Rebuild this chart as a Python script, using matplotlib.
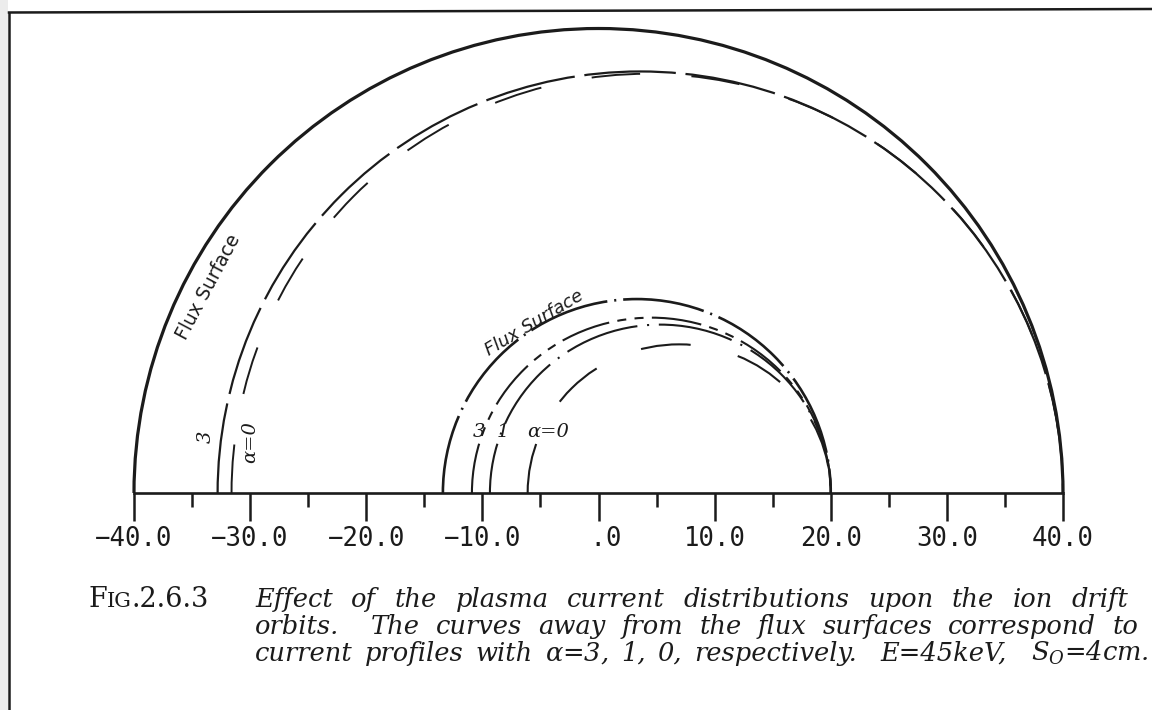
import numpy as np
import matplotlib
matplotlib.use("Agg")
import matplotlib.pyplot as plt
from matplotlib.patches import Arc, Rectangle
from matplotlib.lines import Line2D
from matplotlib.transforms import IdentityTransform

plt.rcParams["lines.scale_dashes"] = False
plt.rcParams["mathtext.fontset"] = "custom"
plt.rcParams["mathtext.rm"] = "DejaVu Serif"
plt.rcParams["mathtext.it"] = "DejaVu Serif:italic"

INK = "#1b1b1b"

# ---- flux surfaces: centre on the midplane and radius (cm)
flux_centre = [0.0, 3.3]
flux_radius = [40.0, 16.7]

# ---- drift orbits: inner / outer crossing of the midplane and peak height (cm)
outer_alpha = ["3", "0"]
outer_left = [-32.8, -31.6]
outer_right = [40.0, 40.0]
outer_top = [36.3, 36.1]

inner_alpha = ["3", "1", "0"]
inner_left = [-10.9, -9.35, -6.1]
inner_right = [20.0, 20.0, 20.0]
inner_top = [15.1, 14.5, 12.8]

x_ticks = [-40, -30, -20, -10, 0, 10, 20, 30, 40]
x_tick_labels = ["\u221240.0", "\u221230.0", "\u221220.0", "\u221210.0", " .0",
                 "10.0", "20.0", "30.0", "40.0"]

caption = [
    ["Effect", "of", "the", "plasma", "current", "distributions", "upon", "the", "ion", "drift"],
    ["orbits.", "The", "curves", "away", "from", "the", "flux", "surfaces", "correspond", "to"],
    ["current", "profiles", "with", r"$\alpha$=3,", "1,", "0,", "respectively.", "E=45keV,",
     r"$S_O$=4cm."],
]

W, H = 1152, 710
PPU = 929 / 80          # pixels per cm along both axes

fig = plt.figure(figsize=(W / 100, H / 100), dpi=100)
fig.patch.set_facecolor("white")

ax = fig.add_axes([134 / W, (H - 493) / H, 929 / W, 493 / H])
ax.set_xlim(-40, 40)
ax.set_ylim(0, 493 / PPU)
ax.set_facecolor("none")
for s in ["top", "left", "right"]:
    ax.spines[s].set_visible(False)
ax.spines["bottom"].set_linewidth(1.9)
ax.spines["bottom"].set_color(INK)
ax.set_xticks(x_ticks)
ax.set_xticklabels(x_tick_labels, family="DejaVu Sans Mono", fontsize=18.5, color=INK)
ax.set_xticks(range(-35, 40, 10), minor=True)
ax.tick_params(axis="x", which="major", direction="out", length=20, width=1.8,
               color=INK, pad=4)
ax.tick_params(axis="x", which="minor", direction="out", length=10, width=1.8, color=INK)
ax.set_yticks([])


def half_len(a, b):
    # length (pt) of a half ellipse, Ramanujan's approximation
    a, b = a * PPU * 0.72, b * PPU * 0.72
    return np.pi * (3 * (a + b) - np.sqrt((3 * a + b) * (a + 3 * b))) / 2


def dashed(pattern, end, a, b):
    # shift the pattern so the left end of the arc finishes `end` pt into it
    return (end - half_len(a, b)) % sum(pattern), pattern


def half_arc(lft, rgt, top, lw, pattern=None, end=0):
    a = (rgt - lft) / 2
    ls = "-" if pattern is None else dashed(pattern, end, a, top)
    ax.add_patch(Arc(((lft + rgt) / 2, 0), 2 * a, 2 * top, theta1=0, theta2=180,
                     color=INK, lw=lw, ls=ls, clip_on=False))


# flux surfaces
c, r = flux_centre[0], flux_radius[0]
half_arc(c - r, c + r, r, 2.3)
c, r = flux_centre[1], flux_radius[1]
half_arc(c - r, c + r, r, 1.9, (59, 5, 1.5, 5), 57)

# outer orbits
outer_styles = [(1.6, (66, 7), 65), (1.4, (35, 37), 35)]
for lft, rgt, top, (lw, pat, end) in zip(outer_left, outer_right, outer_top, outer_styles):
    half_arc(lft, rgt, top, lw, pat, end)

# inner orbits
inner_styles = [(1.5, (36, 6, 6.5, 6, 6.5, 6), 36), (1.5, (54, 7, 1.5, 7), 36),
                (1.5, (36, 35), 36)]
for lft, rgt, top, (lw, pat, end) in zip(inner_left, inner_right, inner_top, inner_styles):
    half_arc(lft, rgt, top, lw, pat, end)

# labels on the plot
ax.text(-33.6, 17.7, "Flux Surface", rotation=62, rotation_mode="anchor",
        ha="center", va="center", fontsize=13.5, family="DejaVu Sans", color=INK)
ax.text(-5.5, 14.6, "Flux Surface", rotation=31, rotation_mode="anchor",
        ha="center", va="center", fontsize=13, family="DejaVu Sans", style="italic",
        color=INK)

lab = dict(family="DejaVu Serif", style="italic", fontsize=14, color=INK,
           ha="center", va="center")
ax.text(-33.8, 4.8, outer_alpha[0], rotation=90, **lab)
ax.text(-30.0, 4.4, "\u03b1=" + outer_alpha[1], rotation=90, **lab)
ax.text(-10.3, 5.25, inner_alpha[0], **lab)
ax.text(-8.2, 5.25, inner_alpha[1], **lab)
ax.text(-4.3, 5.25, "\u03b1=" + inner_alpha[2], **lab)

# page frame
px = IdentityTransform()
fig.add_artist(Rectangle((0, 0), 8, H, transform=px, color="#ececec", lw=0))
fig.add_artist(Line2D([9, W], [H - 12.5, H - 9], transform=px, lw=1.8, color=INK))
fig.add_artist(Line2D([9, 9], [0, H - 12.5], transform=px, lw=1.8, color=INK))

# caption
renderer = fig.canvas.get_renderer()


def run_text(pieces, x, y):
    for txt, size in pieces:
        t = fig.text(x, H - y, txt, transform=px, fontsize=size, family="DejaVu Serif",
                     color=INK, va="baseline")
        x += t.get_window_extent(renderer).width


def justified(words, y, x0, x1):
    arts = [fig.text(0, H - y, w, transform=px, fontsize=18.5, family="DejaVu Serif",
                     style="italic", color=INK, va="baseline") for w in words]
    widths = [a.get_window_extent(renderer).width for a in arts]
    gaps = [2 if w.endswith(".") or w.endswith("V,") else 1 for w in words[:-1]]
    spare = (x1 - x0 - sum(widths)) / sum(gaps)
    x = x0
    for a, w, g in zip(arts, widths, gaps + [0]):
        a.set_x(x)
        x += w + spare * g


run_text([("F", 19.5), ("IG", 15), (".2.6.3", 19.5)], 88, 607)
justified(caption[0], 607, 255, 1128)
justified(caption[1], 634, 255, 1138)
justified(caption[2], 661, 255, 1149)

fig.savefig("out.png", dpi=100)
